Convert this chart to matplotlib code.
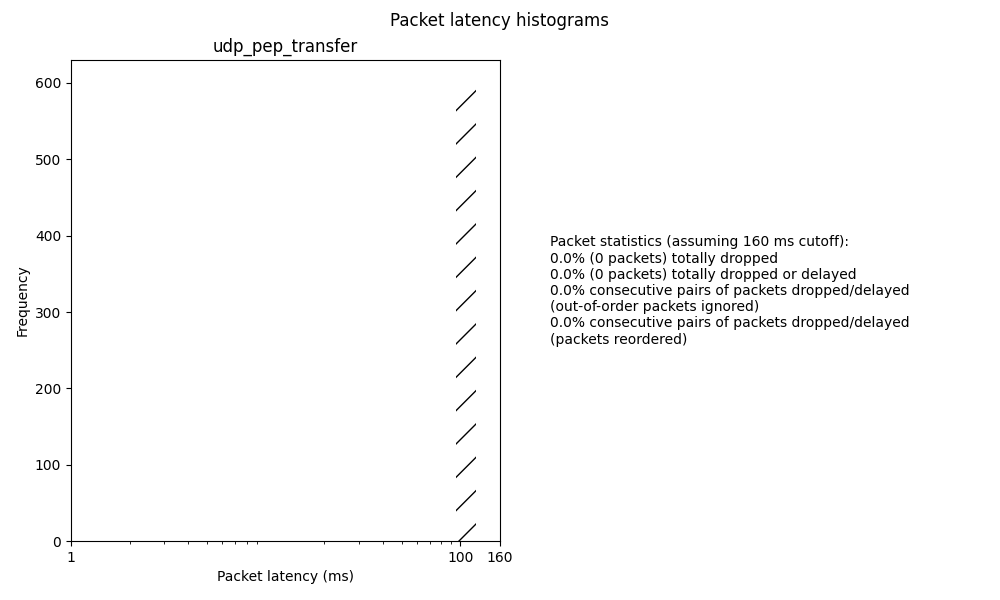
import matplotlib
matplotlib.use("Agg")
import matplotlib.pyplot as plt

# histogram: one populated bin
bin_edges = [95, 120]
bin_counts = [600]
xtick_vals = [1, 100, 160]
stats_lines = [
    "Packet statistics (assuming 160 ms cutoff):",
    "0.0% (0 packets) totally dropped",
    "0.0% (0 packets) totally dropped or delayed",
    "0.0% consecutive pairs of packets dropped/delayed",
    "(out-of-order packets ignored)",
    "0.0% consecutive pairs of packets dropped/delayed",
    "(packets reordered)",
]

fig = plt.figure(figsize=(10, 6))
ax = fig.add_axes([0.071, 0.098, 0.429, 0.802])
fig.suptitle("Packet latency histograms")

ax.hist(bin_edges[:-1], bins=bin_edges, weights=bin_counts,
        fill=False, hatch="/", linewidth=0)
ax.set_xscale("log")
ax.set_xlim(1, 160)
ax.set_xticks(xtick_vals)
ax.set_xticklabels([str(v) for v in xtick_vals])
ax.set_title("udp_pep_transfer")
ax.set_xlabel("Packet latency (ms)")
ax.set_ylabel("Frequency")

fig.text(0.55, 0.515, "\n".join(stats_lines), va="center", ha="left")

fig.savefig("out.png", dpi=100)
